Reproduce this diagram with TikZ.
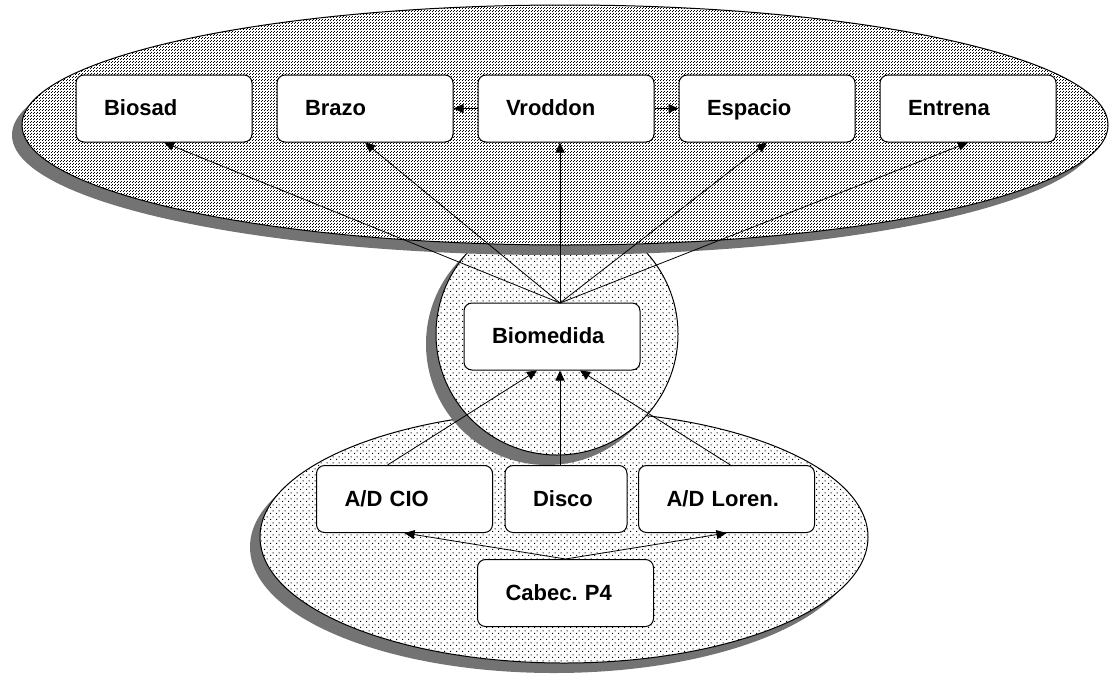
\documentclass[tikz,border=0pt]{standalone}
\usepackage{fontspec}
\setmainfont{Liberation Sans}
\frenchspacing
\usetikzlibrary{arrows.meta,patterns}
\pgfdeclarepatternformonly{topdots}{\pgfpointorigin}{\pgfqpoint{3pt}{3pt}}{\pgfqpoint{3pt}{3pt}}{%
  \pgfpathrectangle{\pgfpointorigin}{\pgfqpoint{1pt}{1pt}}%
  \pgfpathrectangle{\pgfqpoint{1.5pt}{1.5pt}}{\pgfqpoint{1pt}{1pt}}%
  \pgfusepath{fill}}
\pgfdeclarepatternformonly{lowdots}{\pgfpointorigin}{\pgfqpoint{6pt}{6pt}}{\pgfqpoint{6pt}{6pt}}{%
  \pgfpathrectangle{\pgfpointorigin}{\pgfqpoint{1.2pt}{1.2pt}}%
  \pgfpathrectangle{\pgfqpoint{3pt}{3pt}}{\pgfqpoint{1.2pt}{1.2pt}}%
  \pgfusepath{fill}}
\begin{document}
\begin{tikzpicture}[x=1pt,y=-1pt,line width=1pt,
  box/.style={draw,fill=white,rounded corners=8pt,minimum height=67pt,inner xsep=28pt,text width=120pt,text height=16pt,text depth=2pt,align=left,font=\bfseries\fontsize{22}{26}\selectfont},
  arr/.style={-{Triangle[length=10pt,width=9pt]},line width=0.8pt},
  drop/.style={fill=black!55},
  blob/.style={draw,preaction={fill=white}}]
\useasboundingbox (0,0) rectangle (1118,675);
\coordinate (T) at (565,125);
\coordinate (M) at (557,334);
\coordinate (L) at (564,537);
\fill[drop] ([shift={(-10,10)}]L) ellipse [x radius=304,y radius=126];
\path[blob,pattern=lowdots] (L) ellipse [x radius=304,y radius=126];
\fill[drop] ([shift={(-10,10)}]M) circle [radius=121];
\path[blob,pattern=lowdots] (M) circle [radius=121];
\fill[drop] ([shift={(-10,10)}]T) ellipse [x radius=543,y radius=120];
\path[blob,pattern=topdots] (T) ellipse [x radius=543,y radius=120];
\node[box] (sad) at (164,108.5) {Biosad};
\node[box] (bra) at (365,108.5) {Brazo};
\node[box] (vro) at (566,108.5) {Vroddon};
\node[box] (esp) at (767,108.5) {Espacio};
\node[box] (ent) at (968,108.5) {Entrena};
\node[box] (med) at (552,336.5) {Biomedida};
\node[box] (cio) at (404.5,499) {A/D CIO};
\node[box,text width=66pt] (dis) at (566,499) {Disco};
\node[box] (lor) at (726.5,499) {A/D Loren.};
\node[box] (cab) at (565.5,593) {Cabec. P4};
\coordinate (hub) at (560,303);
\draw[arr] (hub) -- (sad.south);
\draw[arr] (hub) -- (bra.south);
\draw[arr] (hub) -- (hub |- vro.south);
\draw[arr] (hub) -- (esp.south);
\draw[arr] (hub) -- (ent.south);
\draw[arr] (vro.west) -- (bra.east);
\draw[arr] (vro.east) -- (esp.west);
\draw[arr] ([xshift=-17]cio.north) -- ([xshift=-15]med.south);
\draw[arr] (dis.north -| hub) -- (med.south -| hub);
\draw[arr] ([xshift=4]lor.north) -- ([xshift=28]med.south);
\draw[arr] (cab.north) -- (cio.south);
\draw[arr] (cab.north) -- (lor.south);
\end{tikzpicture}
\end{document}
